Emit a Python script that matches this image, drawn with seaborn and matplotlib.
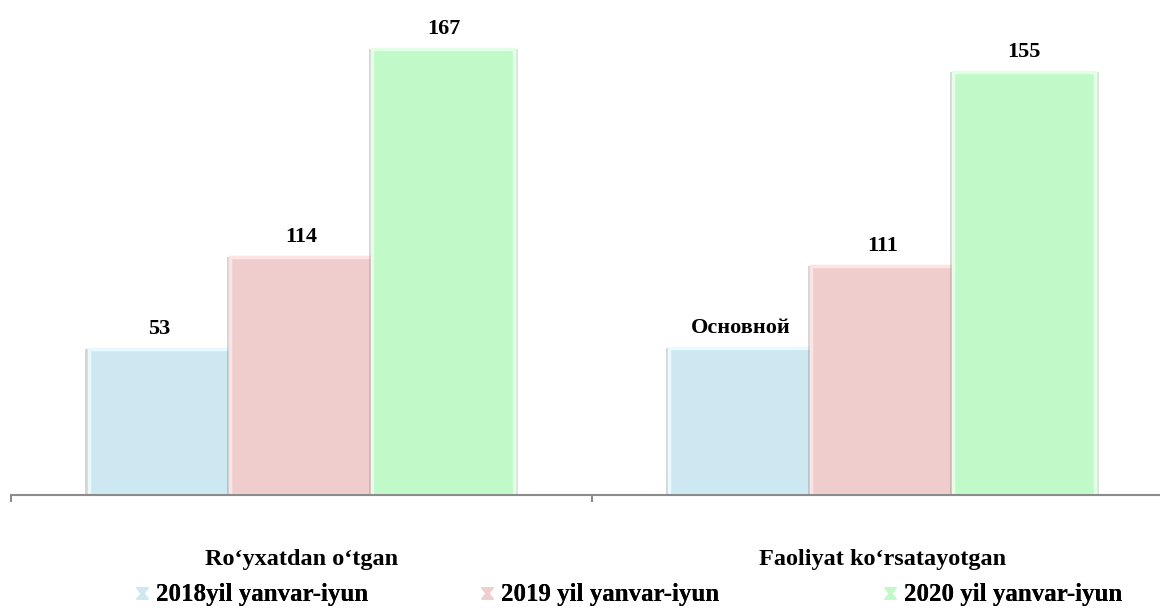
import pandas as pd
import matplotlib
matplotlib.use("Agg")
import matplotlib.pyplot as plt
import matplotlib.patheffects as pe
from matplotlib.lines import Line2D
from matplotlib.path import Path
import seaborn as sns

categories = ["Ro\u2018yxatdan o\u2018tgan", "Faoliyat ko\u2018rsatayotgan"]
years = ["2018yil yanvar-iyun", "2019 yil yanvar-iyun", "2020 yil yanvar-iyun"]
# bar heights as drawn in the picture (scaled so the tallest bar = 167)
heights_g1 = [54.7, 89.1, 167]
heights_g2 = [55.0, 85.7, 158.4]
# texts printed above the bars
labels_g1 = ["53", "114", "167"]
labels_g2 = ["\u041e\u0441\u043d\u043e\u0432\u043d\u043e\u0439", "111", "155"]
colors = ["#CDE8F0", "#F0CDCD", "#C1F9C8"]
edge_colors = ["#E6FAFF", "#FFE3E3", "#E3FFE6"]

df = pd.DataFrame({
    "cat": [categories[0]] * 3 + [categories[1]] * 3,
    "year": years * 2,
    "height": heights_g1 + heights_g2,
})

sns.set_style("white")
plt.rcParams["font.family"] = ["Liberation Serif", "DejaVu Serif"]
plt.rcParams["font.weight"] = "bold"
plt.rcParams["text.color"] = "black"
plt.rcParams["xtick.color"] = "black"

fig = plt.figure(figsize=(11.6, 6.08), dpi=100)
ax = fig.add_axes([11 / 1160, 113 / 608, 1149 / 1160, 495 / 608])

sns.barplot(data=df, x="cat", y="height", hue="year", palette=colors,
            width=0.733, ax=ax, legend=False, saturation=1)

shadow = [pe.SimplePatchShadow(offset=(-2.5, 0), shadow_rgbFace="#888888", alpha=0.35),
          pe.SimplePatchShadow(offset=(2.5, 0), shadow_rgbFace="#888888", alpha=0.25),
          pe.Normal()]
for i, cont in enumerate(ax.containers):
    for bar in cont:
        bar.set_edgecolor(edge_colors[i])
        bar.set_linewidth(2.5)
        bar.set_path_effects(shadow)
    ax.bar_label(cont, labels=[labels_g1[i], labels_g2[i]], padding=7,
                 fontsize=16, fontweight="bold", color="black")

ax.set_xlabel("")
ax.set_ylabel("")
ax.set_yticks([])

ax.set_xticks([0, 1], labels=categories)
ax.set_xticks([-0.5, 0.5, 1.5], minor=True)
ax.set_xlim(-0.5, 1.478)
ax.set_ylim(0, 185.3)
ax.tick_params(axis="x", which="major", length=0, pad=39, labelsize=17.5,
               labelcolor="black")
ax.tick_params(axis="x", which="minor", length=5, width=1.5, color="#8C8C8C",
               direction="out", bottom=True)
for s in ["top", "left", "right"]:
    ax.spines[s].set_visible(False)
ax.spines["bottom"].set_color("#8C8C8C")
ax.spines["bottom"].set_linewidth(1.5)

hourglass = Path([(-1, 1), (1, 1), (0.2, 0), (1, -1), (-1, -1), (-0.2, 0), (-1, 1)],
                 [Path.MOVETO] + [Path.LINETO] * 5 + [Path.CLOSEPOLY])
legend_x = [136, 481, 884]
for c, name, lx in zip(colors, years, legend_x):
    h = Line2D([], [], linestyle="none", marker=hourglass, markersize=8,
               markerfacecolor=c, markeredgecolor=c)
    leg = fig.legend([h], [name], loc="center left",
                     bbox_to_anchor=(lx / 1160, 13 / 608), frameon=False,
                     handlelength=0.5, handletextpad=0.3, borderpad=0,
                     borderaxespad=0, labelcolor="black",
                     prop={"weight": "bold", "size": 18})
    fig.add_artist(leg)

fig.savefig("out.png", dpi=100)
